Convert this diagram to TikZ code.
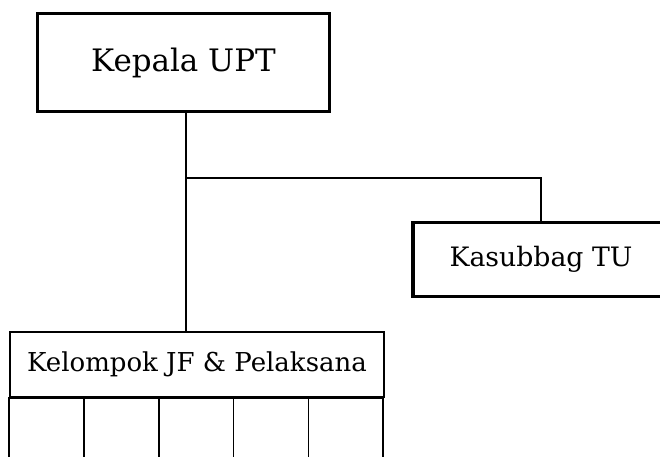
\documentclass[tikz,border=0pt]{standalone}
\usepackage{fontspec}
\setmainfont{DejaVu Serif}
\usepackage{tikz}
\usetikzlibrary{positioning}

\tikzset{
  headbox/.style={draw, line width=2.4pt, rectangle, inner sep=0pt, font=\fontsize{22}{26}\selectfont},
  unitbox/.style={draw, line width=1.2pt, rectangle, inner sep=0pt, font=\fontsize{18.5}{22}\selectfont},
  cellbox/.style={draw, line width=1.2pt, rectangle, inner sep=0pt, outer sep=0pt, minimum width=1.87cm, minimum height=1.9cm},
  link/.style={line width=0.9pt}
}

\begin{document}
\begin{tikzpicture}[x=0.025cm, y=-0.025cm]
        \useasboundingbox (0,0) rectangle (660,456);
        \clip (0,0) rectangle (660,456);

        % Boxes
        \node[headbox, minimum width=7.3cm, minimum height=2.45cm] (kepala) at (183.5,62.5) {Kepala UPT};
        \node[headbox, font=\fontsize{19}{23}\selectfont, minimum width=6.4cm, minimum height=1.85cm] (kasubbag) at (541,259.5) {Kasubbag TU};
        \node[unitbox, minimum width=9.35cm, minimum height=1.62cm] (kelompok) at (197,364.5) {Kelompok JF \& Pelaksana};

        % Cells under the group box
        \node[cellbox, anchor=north west] (c1) at (kelompok.south west) {};
        \foreach \i [count=\j from 2] in {1,...,4}
          \node[cellbox, right=0pt of c\i] (c\j) {};

        % Lines
        \coordinate (jn) at (186,178);
        \draw[link] (kepala.south -| jn) -- (jn |- kelompok.north);
        \draw[link] (jn) -| (kasubbag.north);
\end{tikzpicture}
\end{document}
